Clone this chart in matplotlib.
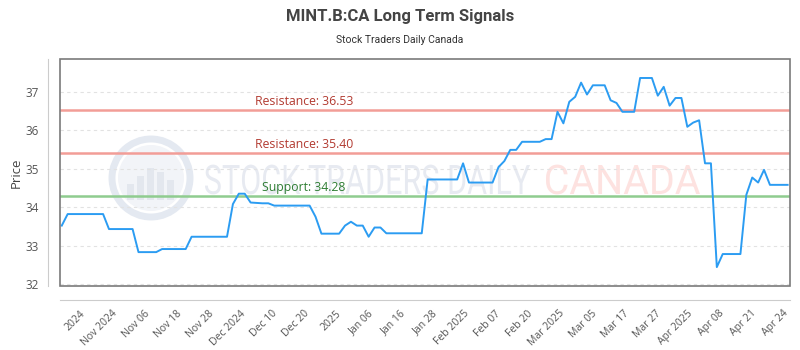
import numpy as np
import matplotlib.pyplot as plt
from matplotlib.patches import Rectangle, Circle, PathPatch
from matplotlib.textpath import TextPath
from matplotlib.font_manager import FontProperties
from matplotlib.transforms import Affine2D

# daily closes (one value per trading day)
prices = [
    33.52,
    33.82, 33.82, 33.82, 33.82, 33.82, 33.82, 33.82,
    33.43, 33.43, 33.43, 33.43, 33.43,
    32.83, 32.83, 32.83, 32.83,
    32.91, 32.91, 32.91, 32.91, 32.91,
    33.23, 33.23, 33.23, 33.23, 33.23, 33.23, 33.23,
    34.08, 34.35, 34.35, 34.12,
    34.11, 34.10, 34.10,
    34.04, 34.04, 34.04, 34.04, 34.04, 34.04, 34.04,
    33.75, 33.31, 33.31, 33.31, 33.31,
    33.52, 33.62, 33.52, 33.52, 33.23, 33.47, 33.47,
    33.32, 33.32, 33.32, 33.32, 33.32, 33.32, 33.32,
    34.72, 34.72, 34.72, 34.72, 34.72, 34.72,
    35.14,
    34.64, 34.64, 34.64, 34.64, 34.64,
    35.04, 35.20, 35.49, 35.49,
    35.70, 35.70, 35.70, 35.70,
    35.77, 35.77,
    36.48, 36.18, 36.74, 36.87, 37.24, 36.93,
    37.17, 37.17, 37.17,
    36.78, 36.71,
    36.48, 36.48, 36.48,
    37.36, 37.36, 37.36,
    36.90, 37.13, 36.64, 36.84, 36.84,
    36.09, 36.20, 36.26,
    35.14, 35.14,
    32.44,
    32.78, 32.78, 32.78, 32.78,
    34.32, 34.77, 34.64, 34.97,
    34.58, 34.58, 34.58, 34.58,
]

tick_labels = [
    "2024", "Nov 2024", "Nov 06", "Nov 18", "Nov 28", "Dec 2024", "Dec 10",
    "Dec 20", "2025", "Jan 06", "Jan 16", "Jan 28", "Feb 2025", "Feb 07",
    "Feb 20", "Mar 2025", "Mar 05", "Mar 17", "Mar 27", "Apr 2025", "Apr 08",
    "Apr 21", "Apr 24",
]

resistance_levels = [36.53, 35.40]
support_levels = [34.28]


def stretched_text(ax, s, left, width, baseline, cap, color):
    # squeeze a text path into a box, like the condensed watermark font
    tp = TextPath((0, 0), s, size=10, prop=FontProperties(family="Roboto"))
    ext = tp.get_extents()
    cap_path = TextPath((0, 0), "H", size=10, prop=FontProperties(family="Roboto"))
    cap_h = cap_path.get_extents().height
    sx = width / ext.width
    sy = cap / cap_h
    tr = Affine2D().translate(-ext.x0, 0).scale(sx, -sy).translate(left, baseline)
    ax.add_patch(PathPatch(tr.transform_path(tp), fc=color, ec="none"))


def draw_watermark(fig):
    wm = fig.add_axes([0, 0, 1, 1], zorder=-1)
    wm.set_xlim(0, 800)
    wm.set_ylim(350, 0)
    wm.axis("off")
    wm.add_patch(Circle((151, 178), 39, fill=False, ec="#e4e9f1", lw=5))
    wm.add_patch(Circle((151, 178), 33, fc="#f2f4f8", ec="none"))
    for bx, bh in [(127, 16), (137, 24), (147, 32), (157, 28), (167, 20)]:
        wm.add_patch(Rectangle((bx, 200 - bh), 7, bh, fc="#e3e7ee", ec="none"))
    stretched_text(wm, "STOCK TRADERS DAILY", 205, 325, 194, 29, "#e7eaf1")
    stretched_text(wm, "CANADA", 546, 154, 194, 29, "#fde2e0")


def main():
    plt.rcParams['font.family'] = ['Open Sans', 'DejaVu Sans']
    fig = plt.figure(figsize=(8, 3.5), dpi=100)
    draw_watermark(fig)

    ax = fig.add_axes([0.075, 0.183, 0.9125, 0.648])
    ax.set_facecolor("none")
    for side in ["top", "right"]:
        ax.spines[side].set_visible(False)
    ax.spines["left"].set_position(("outward", 9))
    ax.spines["bottom"].set_position(("outward", 10))
    ax.spines["left"].set_color("#cccccc")
    ax.spines["bottom"].set_color("#cccccc")

    x = np.arange(len(prices))

    for lvl in resistance_levels:
        ax.axhline(lvl, color="#f29d97", lw=1.8, zorder=2)
        ax.text(41, lvl + 0.06, f"Resistance: {lvl:.2f}", color="#b23a30",
                fontsize=8.8, ha="center", va="bottom", zorder=4)
    for lvl in support_levels:
        ax.axhline(lvl, color="#8fcc8f", lw=1.8, zorder=2)
        ax.text(41, lvl + 0.06, f"Support: {lvl:.2f}", color="#2e7d32",
                fontsize=8.8, ha="center", va="bottom", zorder=4)

    ax.plot(x, prices, color="#2b9cf2", lw=1.4, zorder=3)

    ax.set_xlim(-0.3, len(prices) - 1 + 0.4)
    ax.set_ylim(31.95, 37.85)
    ax.set_yticks([32, 33, 34, 35, 36, 37])
    ax.grid(axis="y", color="#e2e2e2", ls=(0, (3, 3)), lw=0.8)
    ax.set_axisbelow(True)

    tick_pos = np.linspace(3.1, 122.2, len(tick_labels))
    ax.set_xticks(tick_pos)
    ax.set_xticklabels(tick_labels, rotation=45, ha="right", va="top",
                       rotation_mode="anchor", fontsize=7.5, color="#555555")
    ax.tick_params(axis="x", length=0, pad=6)
    ax.tick_params(axis="y", length=0, pad=6, labelsize=8.5, labelcolor="#555555")

    ax.add_patch(Rectangle((0, 0), 1, 1, transform=ax.transAxes, fill=False,
                           ec="#7a7a7a", lw=1.2, clip_on=False, zorder=5))

    ax.set_ylabel("Price", fontsize=9.5, color="#444444", labelpad=2)

    fig.text(0.5, 0.953, "MINT.B:CA Long Term Signals", ha="center", va="center",
             fontsize=12, fontweight="bold", color="#444444", family="Roboto")
    fig.text(0.5, 0.885, "Stock Traders Daily Canada", ha="center", va="center",
             fontsize=7.5, color="#333333", family="Roboto")

    fig.savefig("out.png", dpi=100)


if __name__ == "__main__":
    main()
